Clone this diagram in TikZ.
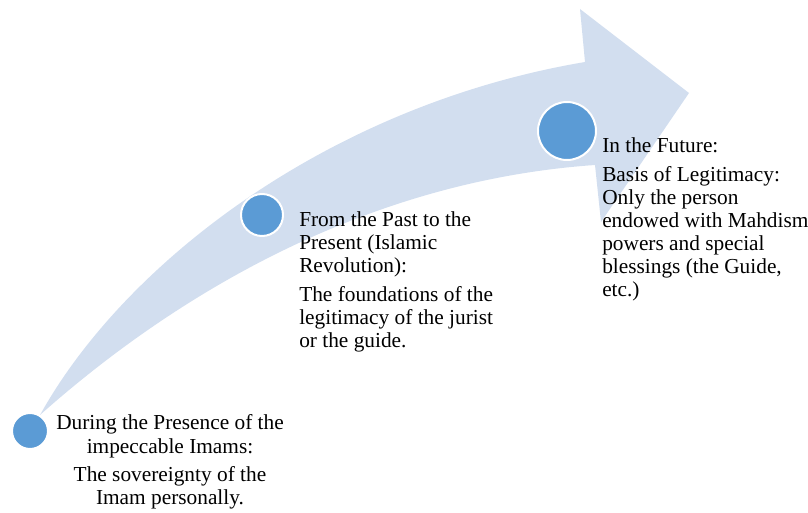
\documentclass[tikz,border=0pt]{standalone}
\usepackage{fontspec}
\setmainfont{Liberation Serif}
\definecolor{arrowfill}{RGB}{210,222,239}
\definecolor{dotfill}{RGB}{91,155,213}
\begin{document}
\begin{tikzpicture}[x=0.75pt,y=-0.75pt,
  dot/.style={circle,fill=dotfill,draw=white,line width=1.5pt,inner sep=0pt,minimum size=#1},
  txt/.style={inner sep=0pt,font=\fontsize{16}{17.25}\selectfont}]
\useasboundingbox (0,0) rectangle (808,513);
% curved arrow
\fill[arrowfill] (40,415) .. controls (125,262) and (330,105) .. (585,62)
  -- (580,9) -- (689,93) -- (601,222) -- (595,165)
  .. controls (350,182) and (158,310) .. (40,415) -- cycle;
% dots
\node[dot=36pt*0.75] (c1) at (30,431) {};
\node[dot=42pt*0.75] (c2) at (262,215) {};
\node[dot=58pt*0.75] (c3) at (567,131) {};
% texts (base anchor = baseline of the last line)
\node[txt,align=center,anchor=base] (t1) at (170,505)
  {During the Presence of the\\impeccable Imams:\\[4.5pt]The sovereignty of the\\Imam personally.};
\node[txt,align=left,anchor=base west] (t2) at (299,348)
  {From the Past to the\\Present (Islamic\\Revolution):\\[5pt]The foundations of the\\legitimacy of the jurist\\or the guide.};
\node[txt,align=left,anchor=base west] (t3) at (602,297)
  {In the Future:\\[5pt]Basis of Legitimacy:\\Only the person\\endowed with Mahdism\\powers and special\\blessings (the Guide,\\etc.)};
\end{tikzpicture}
\end{document}
